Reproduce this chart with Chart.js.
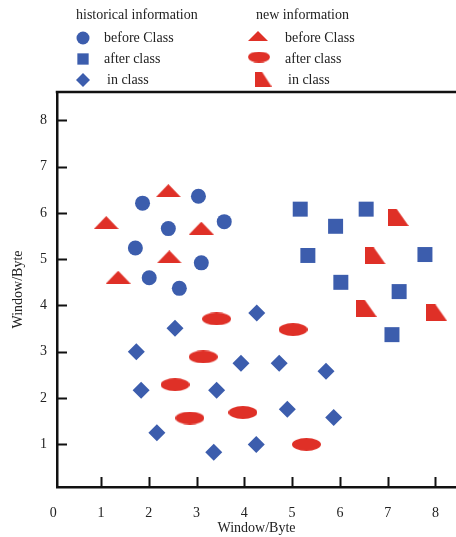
<!DOCTYPE html>
<html lang="en">
<head>
    <meta charset="UTF-8">
    <title>Window/Byte</title>
    <script src="https://cdn.jsdelivr.net/npm/chart.js"></script>
    <style>
        html, body { margin: 0; padding: 0; background: #fff; overflow: hidden; }
        #box { width: 456px; height: 537px; }
        canvas { display: block; }
    </style>
</head>
<body>
    <div id="box"><canvas id="myChart" width="456" height="537"></canvas></div>

    <script>
        // tick labels
        const xTicks = [0, 1, 2, 3, 4, 5, 6, 7, 8];
        const yTicks = [1, 2, 3, 4, 5, 6, 7, 8];
        const axisTitle = 'Window/Byte';

        // legend text
        const groupNames = ['historical information', 'new information'];
        const seriesNames = ['before Class', 'after class', 'in class'];

        // historical information (blue)
        const histBeforeX = [1.87, 3.04, 2.41, 3.58, 1.72, 3.10, 2.01, 2.64];
        const histBeforeY = [6.21, 6.36, 5.66, 5.81, 5.24, 4.92, 4.60, 4.37];
        const histAfterX = [5.17, 6.55, 5.91, 5.33, 7.78, 6.02, 7.24, 7.09];
        const histAfterY = [6.08, 6.08, 5.71, 5.08, 5.10, 4.50, 4.30, 3.37];
        const histInX = [4.26, 2.55, 1.74, 3.93, 4.73, 5.71, 1.84, 3.42, 4.90, 5.87, 2.17, 4.25, 3.36];
        const histInY = [3.84, 3.51, 3.00, 2.75, 2.75, 2.58, 2.17, 2.17, 1.76, 1.58, 1.25, 1.00, 0.83];

        // new information (red)
        const newBeforeX = [2.41, 1.11, 3.10, 2.43, 1.36];
        const newBeforeY = [6.48, 5.79, 5.67, 5.05, 4.61];
        const newAfterX = [3.42, 5.02, 3.14, 2.55, 2.86, 3.97, 5.30];
        const newAfterY = [3.71, 3.48, 2.89, 2.29, 1.57, 1.69, 1.00];
        const newInX = [7.22, 6.74, 6.55, 8.03];
        const newInY = [5.90, 5.07, 3.94, 3.84];

        const blue = '#3C5DAD';
        const red = '#DF3027';
        const ink = '#222';
        const serif = '"Liberation Serif", "Times New Roman", serif';

        const toPoints = (xs, ys) => xs.map((x, i) => ({ x: x, y: ys[i] }));

        // red markers are not built-in shapes, so paint them on small canvases
        function makeShape(kind, w, h) {
            const c = document.createElement('canvas');
            c.width = w;
            c.height = h;
            const g = c.getContext('2d');
            g.fillStyle = red;
            g.beginPath();
            if (kind === 'triangle') {
                g.moveTo(w / 2, 0);
                g.lineTo(w, h);
                g.lineTo(0, h);
            } else if (kind === 'ellipse') {
                g.ellipse(w / 2, h / 2, w / 2, h / 2, 0, 0, Math.PI * 2);
            } else {
                // right-angled trapezoid, slanted on the right
                g.moveTo(0, 0);
                g.lineTo(w * 0.43, 0);
                g.lineTo(w, h);
                g.lineTo(0, h);
            }
            g.closePath();
            g.fill();
            return c;
        }

        const triangleImg = makeShape('triangle', 25, 13);
        const ellipseImg = makeShape('ellipse', 29, 13);
        const trapImg = makeShape('trap', 21, 17);
        const triangleSmall = makeShape('triangle', 20, 10);
        const ellipseSmall = makeShape('ellipse', 22, 11);
        const trapSmall = makeShape('trap', 17, 15);

        // two-column legend with group headings
        const legendPlugin = {
            id: 'groupLegend',
            afterDraw(chart) {
                const c = chart.ctx;
                const draw = Chart.helpers.drawPoint;
                c.save();
                c.font = '14px ' + serif;
                c.fillStyle = ink;
                c.textBaseline = 'middle';
                c.fillText(groupNames[0], 76, 15);
                c.fillText(groupNames[1], 256, 15);
                c.fillText(seriesNames[0], 104, 38);
                c.fillText(seriesNames[1], 104, 59);
                c.fillText(seriesNames[2], 107, 80);
                c.fillText(seriesNames[0], 285, 38);
                c.fillText(seriesNames[1], 285, 59);
                c.fillText(seriesNames[2], 288, 80);

                c.fillStyle = blue;
                draw(c, { pointStyle: 'circle', radius: 6.5, rotation: 0, borderWidth: 0 }, 83, 38);
                draw(c, { pointStyle: 'rect', radius: 8, rotation: 0, borderWidth: 0 }, 83, 59);
                draw(c, { pointStyle: 'rectRot', radius: 7, rotation: 0, borderWidth: 0 }, 83, 80);
                draw(c, { pointStyle: triangleSmall, radius: 6, rotation: 0, borderWidth: 0 }, 258, 36);
                draw(c, { pointStyle: ellipseSmall, radius: 6, rotation: 0, borderWidth: 0 }, 259, 57);
                draw(c, { pointStyle: trapSmall, radius: 6, rotation: 0, borderWidth: 0 }, 263, 79);
                c.restore();
            }
        };

        // frame line on top and inward tick marks
        const framePlugin = {
            id: 'frame',
            afterDraw(chart) {
                const c = chart.ctx;
                const area = chart.chartArea;
                const xs = chart.scales.x;
                const ys = chart.scales.y;
                c.save();
                c.strokeStyle = '#111';
                c.lineWidth = 2.5;
                c.beginPath();
                c.moveTo(area.left - 1.25, area.top);
                c.lineTo(area.right, area.top);
                c.stroke();
                c.lineWidth = 2;
                c.beginPath();
                xTicks.filter(v => v > 0).forEach(v => {
                    const px = Math.round(xs.getPixelForValue(v)) + 0.5;
                    c.moveTo(px, area.bottom);
                    c.lineTo(px, area.bottom - 10);
                });
                yTicks.forEach(v => {
                    const py = Math.round(ys.getPixelForValue(v)) + 0.5;
                    c.moveTo(area.left, py);
                    c.lineTo(area.left + 10, py);
                });
                c.stroke();
                c.restore();
            }
        };

        const ctx = document.getElementById('myChart').getContext('2d');
        const myChart = new Chart(ctx, {
            type: 'scatter',
            data: {
                datasets: [{
                    label: groupNames[0] + ' ' + seriesNames[0],
                    data: toPoints(histBeforeX, histBeforeY),
                    pointStyle: 'circle',
                    radius: 7.5,
                    backgroundColor: blue
                }, {
                    label: groupNames[0] + ' ' + seriesNames[1],
                    data: toPoints(histAfterX, histAfterY),
                    pointStyle: 'rect',
                    radius: 10.6,
                    backgroundColor: blue
                }, {
                    label: groupNames[0] + ' ' + seriesNames[2],
                    data: toPoints(histInX, histInY),
                    pointStyle: 'rectRot',
                    radius: 8.5,
                    backgroundColor: blue
                }, {
                    label: groupNames[1] + ' ' + seriesNames[0],
                    data: toPoints(newBeforeX, newBeforeY),
                    pointStyle: triangleImg,
                    backgroundColor: red
                }, {
                    label: groupNames[1] + ' ' + seriesNames[1],
                    data: toPoints(newAfterX, newAfterY),
                    pointStyle: ellipseImg,
                    backgroundColor: red
                }, {
                    label: groupNames[1] + ' ' + seriesNames[2],
                    data: toPoints(newInX, newInY),
                    pointStyle: trapImg,
                    backgroundColor: red
                }]
            },
            options: {
                responsive: false,
                animation: false,
                layout: {
                    autoPadding: false,
                    padding: { top: 92, right: 0, left: 0, bottom: 0 }
                },
                elements: { point: { borderWidth: 0 } },
                plugins: {
                    legend: { display: false },
                    tooltip: { enabled: false }
                },
                scales: {
                    x: {
                        type: 'linear',
                        min: 0.08,
                        max: 8.43,
                        afterBuildTicks: s => { s.ticks = xTicks.map(v => ({ value: v })); },
                        afterFit: s => {
                            s.height = 50;
                            s.paddingLeft = 0;
                            s.paddingRight = 0;
                        },
                        grid: { display: false, drawTicks: false },
                        border: { display: true, color: '#111', width: 2.5 },
                        ticks: {
                            autoSkip: false,
                            maxRotation: 0,
                            padding: 18,
                            color: ink,
                            font: { family: serif, size: 14 }
                        },
                        title: {
                            display: true,
                            text: axisTitle,
                            color: ink,
                            padding: { top: 0, bottom: 0 },
                            font: { family: serif, size: 14 }
                        }
                    },
                    y: {
                        type: 'linear',
                        min: 0.08,
                        max: 8.61,
                        afterBuildTicks: s => { s.ticks = yTicks.map(v => ({ value: v })); },
                        afterFit: s => {
                            s.width = 57;
                            s.paddingTop = 0;
                            s.paddingBottom = 0;
                        },
                        grid: { display: false, drawTicks: false },
                        border: { display: true, color: '#111', width: 2.5 },
                        ticks: {
                            autoSkip: false,
                            padding: 10,
                            color: ink,
                            font: { family: serif, size: 14 }
                        },
                        title: {
                            display: true,
                            text: axisTitle,
                            color: ink,
                            padding: { top: 10, bottom: 0 },
                            font: { family: serif, size: 14 }
                        }
                    }
                }
            },
            plugins: [legendPlugin, framePlugin]
        });
    </script>
</body>
</html>
